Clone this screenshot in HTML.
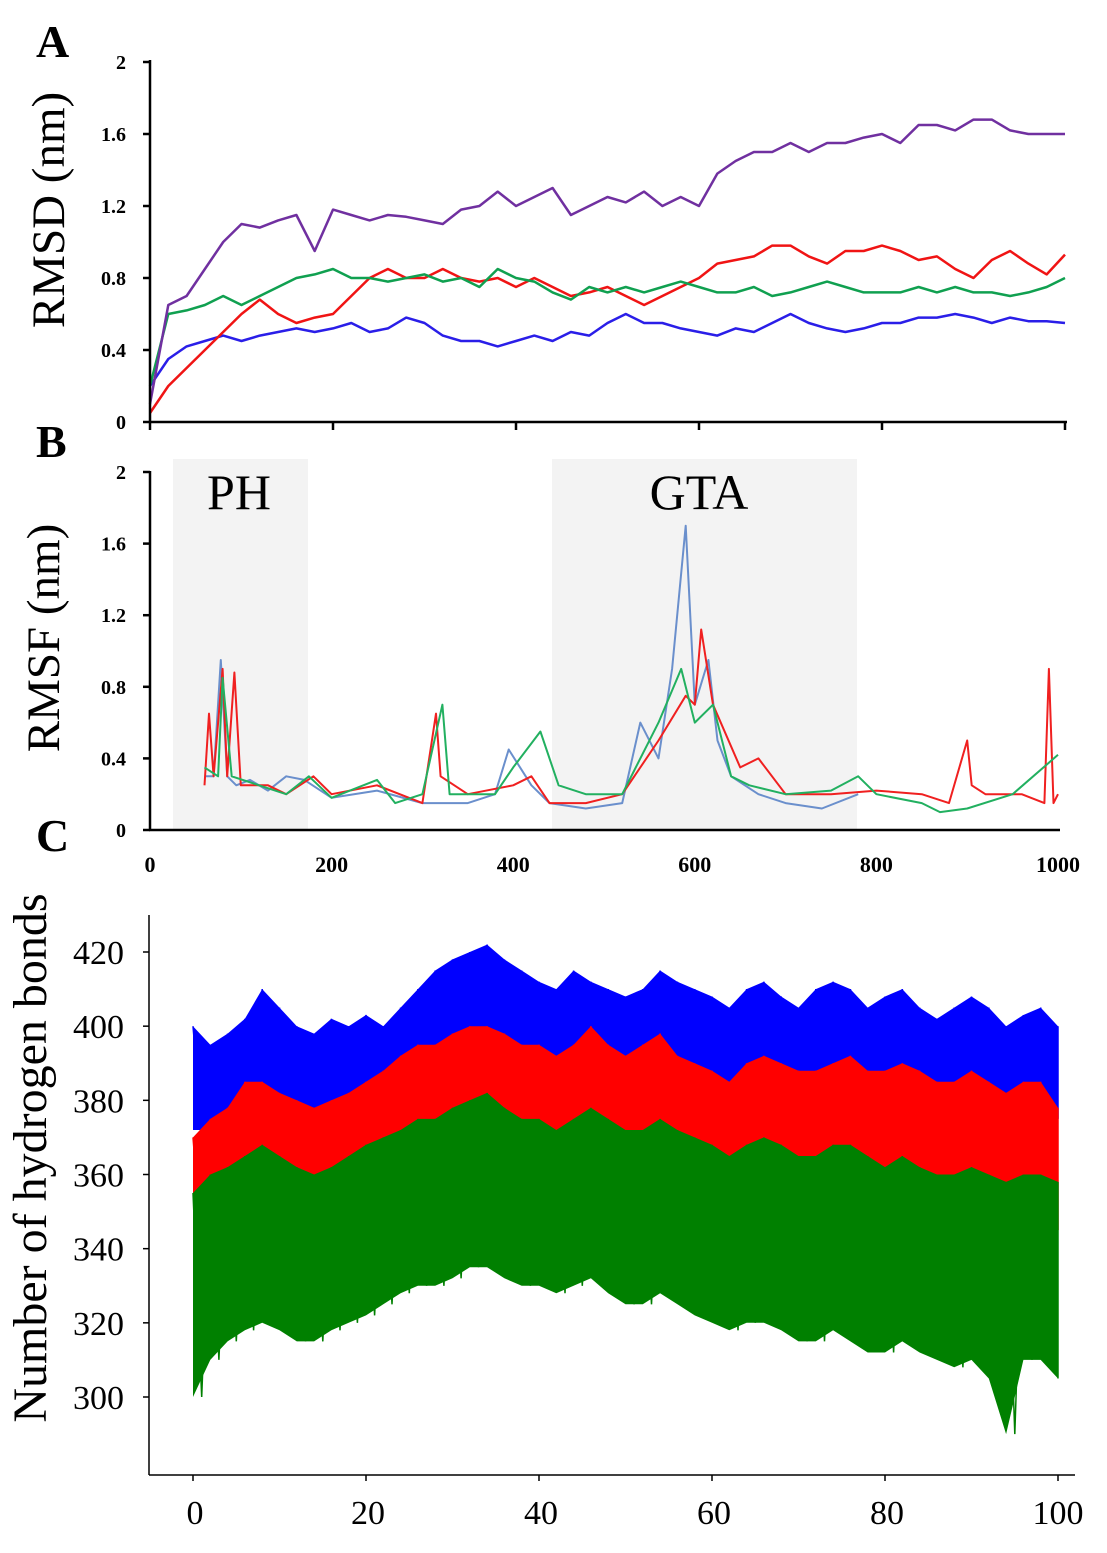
<!DOCTYPE html>
<html><head><meta charset="utf-8"><style>
html,body{margin:0;padding:0;background:#fff;}
svg{display:block;font-family:"Liberation Serif",serif;}
</style></head><body>
<svg id="fig" width="1107" height="1553" viewBox="0 0 1107 1553"></svg>
<script>
// ---- Panel A data (RMSD, x 0..1000 step 20) ----
const aX = [0,20,40,60,80,100,120,140,160,180,200,220,240,260,280,300,320,340,360,380,400,420,440,460,480,500,520,540,560,580,600,620,640,660,680,700,720,740,760,780,800,820,840,860,880,900,920,940,960,980,1000];
const aPurple = [0.1,0.65,0.7,0.85,1.0,1.1,1.08,1.12,1.15,0.95,1.18,1.15,1.12,1.15,1.14,1.12,1.1,1.18,1.2,1.28,1.2,1.25,1.3,1.15,1.2,1.25,1.22,1.28,1.2,1.25,1.2,1.38,1.45,1.5,1.5,1.55,1.5,1.55,1.55,1.58,1.6,1.55,1.65,1.65,1.62,1.68,1.68,1.62,1.6,1.6,1.6];
const aRed = [0.05,0.2,0.3,0.4,0.5,0.6,0.68,0.6,0.55,0.58,0.6,0.7,0.8,0.85,0.8,0.8,0.85,0.8,0.78,0.8,0.75,0.8,0.75,0.7,0.72,0.75,0.7,0.65,0.7,0.75,0.8,0.88,0.9,0.92,0.98,0.98,0.92,0.88,0.95,0.95,0.98,0.95,0.9,0.92,0.85,0.8,0.9,0.95,0.88,0.82,0.93];
const aGreen = [0.2,0.6,0.62,0.65,0.7,0.65,0.7,0.75,0.8,0.82,0.85,0.8,0.8,0.78,0.8,0.82,0.78,0.8,0.75,0.85,0.8,0.78,0.72,0.68,0.75,0.72,0.75,0.72,0.75,0.78,0.75,0.72,0.72,0.75,0.7,0.72,0.75,0.78,0.75,0.72,0.72,0.72,0.75,0.72,0.75,0.72,0.72,0.7,0.72,0.75,0.8];
const aBlue = [0.2,0.35,0.42,0.45,0.48,0.45,0.48,0.5,0.52,0.5,0.52,0.55,0.5,0.52,0.58,0.55,0.48,0.45,0.45,0.42,0.45,0.48,0.45,0.5,0.48,0.55,0.6,0.55,0.55,0.52,0.5,0.48,0.52,0.5,0.55,0.6,0.55,0.52,0.5,0.52,0.55,0.55,0.58,0.58,0.6,0.58,0.55,0.58,0.56,0.56,0.55];
const aYTicks = [0,0.4,0.8,1.2,1.6,2];
const aYLabels = ["0","0.4","0.8","1.2","1.6","2"];
const xTicks = [0,200,400,600,800,1000];
const xTickLabels = ["0","200","400","600","800","1000"];
// ---- Panel B data (RMSF by residue) ----
const bBlueX = [60,70,78,85,95,110,130,150,170,200,250,300,350,380,395,420,440,480,520,540,560,575,590,600,615,625,640,670,700,740,780];
const bBlueY = [0.3,0.3,0.95,0.3,0.25,0.28,0.22,0.3,0.28,0.18,0.22,0.15,0.15,0.2,0.45,0.25,0.15,0.12,0.15,0.6,0.4,0.9,1.7,0.7,0.95,0.5,0.3,0.2,0.15,0.12,0.2];
const bRedX = [60,65,70,80,85,93,100,130,150,180,200,250,300,315,320,350,400,420,440,480,520,560,590,600,607,620,650,670,700,750,800,850,880,900,905,920,960,985,990,995,1000];
const bRedY = [0.25,0.65,0.3,0.9,0.3,0.88,0.25,0.25,0.2,0.3,0.2,0.25,0.15,0.65,0.3,0.2,0.25,0.3,0.15,0.15,0.2,0.5,0.75,0.7,1.12,0.7,0.35,0.4,0.2,0.2,0.22,0.2,0.15,0.5,0.25,0.2,0.2,0.15,0.9,0.15,0.2];
const bGreenX = [60,75,80,90,120,150,175,200,250,270,300,322,330,380,400,430,450,480,520,560,585,600,620,640,660,700,750,780,800,850,870,900,950,1000];
const bGreenY = [0.35,0.3,0.85,0.3,0.25,0.2,0.3,0.18,0.28,0.15,0.2,0.7,0.2,0.2,0.35,0.55,0.25,0.2,0.2,0.6,0.9,0.6,0.7,0.3,0.25,0.2,0.22,0.3,0.2,0.15,0.1,0.12,0.2,0.42];
// ---- Panel C data (H-bonds, x 0..100 step 2, hi/lo envelope) ----
const cX = [0,2,4,6,8,10,12,14,16,18,20,22,24,26,28,30,32,34,36,38,40,42,44,46,48,50,52,54,56,58,60,62,64,66,68,70,72,74,76,78,80,82,84,86,88,90,92,94,96,98,100];
const cBlueHi = [400,395,398,402,410,405,400,398,402,400,403,400,405,410,415,418,420,422,418,415,412,410,415,412,410,408,410,415,412,410,408,405,410,412,408,405,410,412,410,405,408,410,405,402,405,408,405,400,403,405,400];
const cBlueLo = [372,372,375,378,380,378,375,375,378,378,380,380,382,385,385,388,390,390,388,385,385,385,385,385,382,382,385,385,383,380,380,378,380,382,380,378,378,380,380,378,378,380,378,375,378,378,375,372,375,375,375];
const cRedHi = [370,375,378,385,385,382,380,378,380,382,385,388,392,395,395,398,400,400,398,395,395,392,395,400,395,392,395,398,392,390,388,385,390,392,390,388,388,390,392,388,388,390,388,385,385,388,385,382,385,385,378];
const cRedLo = [340,345,345,348,350,348,345,345,345,348,350,350,352,355,355,358,360,360,358,358,355,355,358,358,355,352,355,355,352,350,350,350,352,352,350,348,348,350,350,348,348,350,348,345,345,348,345,342,345,345,345];
const cGreenHi = [355,360,362,365,368,365,362,360,362,365,368,370,372,375,375,378,380,382,378,375,375,372,375,378,375,372,372,375,372,370,368,365,368,370,368,365,365,368,368,365,362,365,362,360,360,362,360,358,360,360,358];
const cGreenLo = [300,310,315,318,320,318,315,315,318,320,322,325,328,330,330,332,335,335,332,330,330,328,330,332,328,325,325,328,325,322,320,318,320,320,318,315,315,318,315,312,312,315,312,310,308,310,305,290,310,310,305];
const cYTicks = [300,320,340,360,380,400,420];
const cXTicks = [0,20,40,60,80,100];

const NS="http://www.w3.org/2000/svg";
const svg=document.getElementById('fig');
function mk(tag,attrs,parent){const e=document.createElementNS(NS,tag);for(const k in attrs)e.setAttribute(k,attrs[k]);(parent||svg).appendChild(e);return e;}
function txt(s,x,y,attrs){const t=mk('text',Object.assign({x:x,y:y},attrs));t.textContent=s;return t;}
function lin(d0,d1,r0,r1){return v=>r0+(v-d0)/(d1-d0)*(r1-r0);}

const axA=lin(0,1000,150,1065), ayA=lin(0,2,422,62);
const axB=lin(0,1000,150,1058), ayB=lin(0,2,830,472);
const axC=lin(0,100,193,1058), ayC=lin(300,420,1397,952);

let r=mk('rect',{x:173,y:459,width:135,height:371,fill:'#f3f3f3'});

r=mk('rect',{x:552,y:459,width:305,height:371,fill:'#f3f3f3'});

let t=txt('PH',239,509,{'font-size':50,'text-anchor':'middle'});

t=txt('GTA',699,509,{'font-size':50,'text-anchor':'middle'});


function line(xs,ys,sx,sy,color,name,w){
  const pts=xs.map((x,i)=>sx(x).toFixed(1)+','+sy(ys[i]).toFixed(1)).join(' ');
  const p=mk('polyline',{points:pts,fill:'none',stroke:color,'stroke-width':w||2.5,'stroke-linejoin':'round'});
  
}
line(aX,aBlue,axA,ayA,'#2a1ee8','rmsd-blue-series');
line(aX,aRed,axA,ayA,'#f01414','rmsd-red-series');
line(aX,aGreen,axA,ayA,'#10a050','rmsd-green-series');
line(aX,aPurple,axA,ayA,'#7030a0','rmsd-purple-series');
line(bBlueX,bBlueY,axB,ayB,'#6a8fcc','rmsf-blue-series',2);
line(bRedX,bRedY,axB,ayB,'#f02020','rmsf-red-series',2);
line(bGreenX,bGreenY,axB,ayB,'#22b060','rmsf-green-series',2);

function band(hi,lo,color,name){
  const top=cX.map((x,i)=>axC(x).toFixed(1)+','+ayC(hi[i]).toFixed(1));
  const bot=cX.map((x,i)=>axC(x).toFixed(1)+','+ayC(lo[i]).toFixed(1)).reverse();
  const g=mk('g',{});
  
  mk('polygon',{points:top.concat(bot).join(' '),fill:color},g);
  const z=[];
  cX.forEach((x,i)=>{
    z.push(axC(x).toFixed(1)+','+ayC(hi[i]).toFixed(1));
    if(i<cX.length-1) z.push(((axC(x)+axC(cX[i+1]))/2).toFixed(1)+','+ayC(lo[i]).toFixed(1));
    else z.push(axC(x).toFixed(1)+','+ayC(lo[i]).toFixed(1));
  });
  mk('polyline',{points:z.join(' '),fill:'none',stroke:color,'stroke-width':1.5},g);
}
band(cBlueHi,cBlueLo,'#0000ff','hbond-blue-series');
band(cRedHi,cRedLo,'#ff0000','hbond-red-series');
band(cGreenHi,cGreenLo,'#008000','hbond-green-series');

let g=mk('g',{stroke:'#000','stroke-width':2.5});

mk('line',{x1:150,y1:60,x2:150,y2:423},g);
mk('line',{x1:149,y1:422,x2:1067,y2:422},g);
aYTicks.forEach(v=>mk('line',{x1:143,y1:ayA(v),x2:150,y2:ayA(v)},g));
xTicks.forEach(v=>mk('line',{x1:axA(v),y1:422,x2:axA(v),y2:430},g));
aYLabels.forEach((s,i)=>{const e=txt(s,126,ayA(aYTicks[i])+7,{'font-size':20,'font-weight':'bold','text-anchor':'end'});});
g=mk('g',{stroke:'#000','stroke-width':2.5});

mk('line',{x1:150,y1:471,x2:150,y2:831},g);
mk('line',{x1:149,y1:830,x2:1060,y2:830},g);
aYTicks.forEach(v=>mk('line',{x1:143,y1:ayB(v),x2:150,y2:ayB(v)},g));
aYLabels.forEach((s,i)=>{const e=txt(s,126,ayB(aYTicks[i])+7,{'font-size':20,'font-weight':'bold','text-anchor':'end'});});
xTickLabels.forEach((s,i)=>{const e=txt(s,axB(xTicks[i]),872,{'font-size':22,'font-weight':'bold','text-anchor':'middle'});});
g=mk('g',{stroke:'#000','stroke-width':1.5});

mk('line',{x1:149,y1:915,x2:149,y2:1475},g);
mk('line',{x1:149,y1:1475,x2:1075,y2:1475},g);
cYTicks.forEach(v=>mk('line',{x1:143,y1:ayC(v),x2:149,y2:ayC(v)},g));
cXTicks.forEach(v=>mk('line',{x1:axC(v),y1:1475,x2:axC(v),y2:1481},g));
cYTicks.forEach(v=>{const e=txt(String(v),124,ayC(v)+12,{'font-size':34,'text-anchor':'end'});});
cXTicks.forEach(v=>{const e=txt(String(v),axC(v)+(v===100?0:2),1524,{'font-size':34,'text-anchor':'middle'});});

t=txt('RMSD (nm)',0,0,{'font-size':47,'text-anchor':'middle',transform:'translate(64,210) rotate(-90)'});

t=txt('RMSF (nm)',0,0,{'font-size':47,'text-anchor':'middle',transform:'translate(59,638) rotate(-90)'});

t=txt('Number of hydrogen bonds',0,0,{'font-size':48,'text-anchor':'middle',transform:'translate(46,1158) rotate(-90)'});

t=txt('A',36,57,{'font-size':46,'font-weight':'bold'});

t=txt('B',36,457,{'font-size':46,'font-weight':'bold'});

t=txt('C',36,851,{'font-size':46,'font-weight':'bold'});

</script>
</body></html>
